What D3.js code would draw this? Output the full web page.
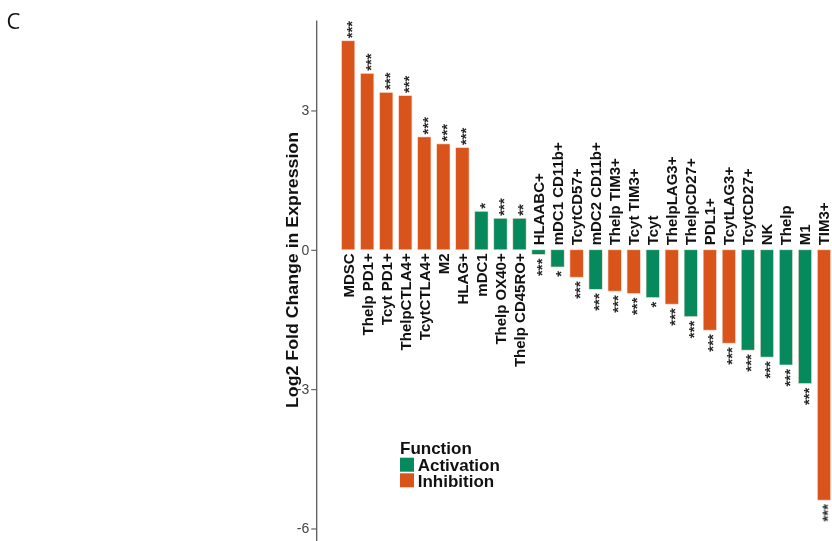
<!DOCTYPE html>
<html>
<head>
<meta charset="utf-8">
<script src="https://cdn.jsdelivr.net/npm/d3@7"></script>
<style>
  html, body { margin: 0; padding: 0; background: #ffffff; }
  svg { display: block; }
  text { font-family: "Liberation Sans", Arial, sans-serif; }
  .soft { opacity: 0.999; }
</style>
</head>
<body>
<svg id="chart" width="832" height="541"></svg>
<script>
// Cell populations, ordered by fold change
const categories = [
  "MDSC", "Thelp PD1+", "Tcyt PD1+", "ThelpCTLA4+", "TcytCTLA4+", "M2", "HLAG+",
  "mDC1", "Thelp OX40+", "Thelp CD45RO+", "HLAABC+", "mDC1 CD11b+", "TcytCD57+",
  "mDC2 CD11b+", "Thelp TIM3+", "Tcyt TIM3+", "Tcyt", "ThelpLAG3+", "ThelpCD27+",
  "PDL1+", "TcytLAG3+", "TcytCD27+", "NK", "Thelp", "M1", "TIM3+"
];
// Log2 fold change in expression
const values = [
  4.50, 3.80, 3.39, 3.32, 2.43, 2.28, 2.20,
  0.83, 0.68, 0.68, -0.10, -0.37, -0.59,
  -0.85, -0.89, -0.94, -1.03, -1.17, -1.44,
  -1.73, -2.01, -2.16, -2.31, -2.48, -2.88, -5.39
];
// Function group of each population
const functions = [
  "Inhibition", "Inhibition", "Inhibition", "Inhibition", "Inhibition", "Inhibition", "Inhibition",
  "Activation", "Activation", "Activation", "Activation", "Activation", "Inhibition",
  "Activation", "Inhibition", "Inhibition", "Activation", "Inhibition", "Activation",
  "Inhibition", "Inhibition", "Activation", "Activation", "Activation", "Activation", "Inhibition"
];
// Significance markers
const signif = [
  "***", "***", "***", "***", "***", "***", "***",
  "*", "***", "**", "***", "*", "***",
  "***", "***", "***", "*", "***", "***",
  "***", "***", "***", "***", "***", "***", "***"
];
const yTicks = [-6, -3, 0, 3];
const groups = ["Activation", "Inhibition"];
const groupColors = ["#07895E", "#D9541B"];

const svg = d3.select("#chart");
const root = svg.append("g").attr("class", "soft");
const data = categories.map((c, i) => ({ name: c, value: values[i], fn: functions[i], sig: signif[i] }));

const axisX = 316.2;

const x = d3.scaleBand()
  .domain(categories)
  .range([axisX, 856])
  .paddingInner(0.3)
  .paddingOuter(1.33);

const y = d3.scaleLinear()
  .domain([-6.5, 4.95])
  .range([551.7, 19.9]);

const color = d3.scaleOrdinal().domain(groups).range(groupColors);

// Panel letter
root.append("text")
  .attr("x", 6.5).attr("y", 29)
  .style("font-family", "'Open Sans', sans-serif")
  .style("font-size", "22px")
  .attr("fill", "#111")
  .text("C");

// Bars
root.append("g").selectAll("rect")
  .data(data)
  .join("rect")
  .attr("x", d => x(d.name))
  .attr("width", x.bandwidth())
  .attr("y", d => y(Math.max(0, d.value)))
  .attr("height", d => Math.abs(y(d.value) - y(0)))
  .attr("fill", d => color(d.fn))
  .attr("stroke", "#fbe3d6")
  .attr("stroke-width", 0.6);

// Category labels on the opposite side of zero
const labelSize = 15;
root.append("g").selectAll("text")
  .data(data)
  .join("text")
  .attr("transform", d => {
    const cx = x(d.name) + x.bandwidth() / 2 + 0.36 * labelSize;
    const yy = d.value >= 0 ? y(0) + 3.5 : y(0) - 4.5;
    return `translate(${cx},${yy}) rotate(-90)`;
  })
  .attr("text-anchor", d => d.value >= 0 ? "end" : "start")
  .style("font-size", labelSize + "px")
  .style("font-weight", "bold")
  .attr("fill", "#111")
  .text(d => d.name);

// Significance stars beyond the bar end
const starSize = 15;
root.append("g").selectAll("text")
  .data(data)
  .join("text")
  .attr("transform", d => {
    const cx = x(d.name) + x.bandwidth() / 2 + 0.57 * starSize;
    const yy = d.value >= 0 ? y(d.value) - 2.5 : y(d.value) + 4;
    return `translate(${cx},${yy}) rotate(-90)`;
  })
  .attr("text-anchor", d => d.value >= 0 ? "start" : "end")
  .style("font-size", starSize + "px")
  .style("font-weight", "bold")
  .attr("fill", "#2a2a2a")
  .text(d => d.sig);

// Y axis
const yAxis = root.append("g")
  .attr("transform", `translate(${axisX},0)`)
  .call(d3.axisLeft(y)
    .tickValues(yTicks)
    .tickFormat(d => String(d))
    .tickSize(5)
    .tickSizeOuter(0)
    .tickPadding(2));
yAxis.select(".domain").attr("stroke", "#5a5a5a").attr("stroke-width", 1.3);
yAxis.selectAll(".tick line").attr("stroke", "#5a5a5a").attr("stroke-width", 1.1);
yAxis.selectAll(".tick text")
  .style("font-family", "'Liberation Sans', Arial, sans-serif")
  .style("font-size", "14px")
  .attr("fill", "#444");

// Y axis title
root.append("text")
  .attr("transform", `translate(297.5,270) rotate(-90)`)
  .attr("text-anchor", "middle")
  .attr("textLength", 276)
  .attr("lengthAdjust", "spacingAndGlyphs")
  .style("font-size", "16.5px")
  .style("font-weight", "bold")
  .attr("fill", "#111")
  .text("Log2 Fold Change in Expression");

// Legend
const legend = root.append("g").attr("transform", "translate(400,0)");
legend.append("text")
  .attr("x", 0).attr("y", 453.5)
  .style("font-size", "17px")
  .style("font-weight", "bold")
  .attr("fill", "#111")
  .text("Function");
const keyY = [457.7, 473.3];
groups.forEach((g, i) => {
  legend.append("rect")
    .attr("x", 0).attr("y", keyY[i])
    .attr("width", 14).attr("height", 14)
    .attr("fill", color(g));
  legend.append("text")
    .attr("x", 17.7).attr("y", keyY[i] + 13.6)
    .style("font-size", "17px")
    .style("font-weight", "bold")
    .attr("fill", "#111")
    .text(g);
});
</script>
</body>
</html>
